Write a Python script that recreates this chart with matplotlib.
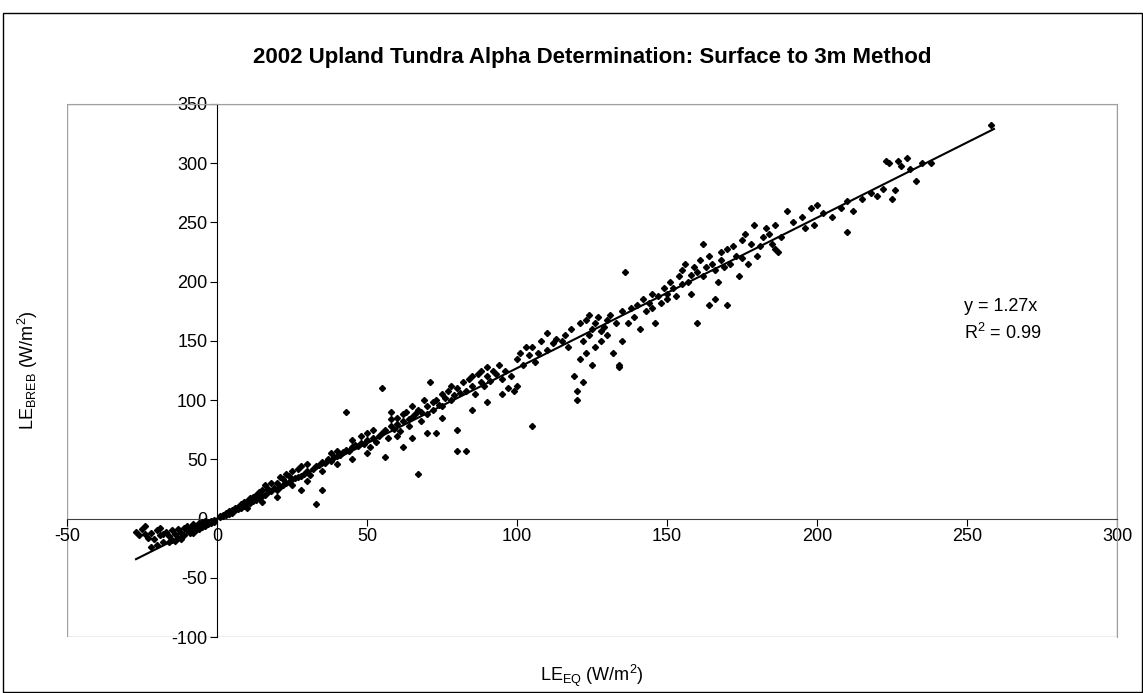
import matplotlib as mpl
import matplotlib.pyplot as plt
import numpy as np
from matplotlib.patches import Rectangle

mpl.rcParams['font.family'] = ['Liberation Sans', 'DejaVu Sans']
mpl.rcParams['mathtext.default'] = 'regular'
mpl.rcParams['axes.unicode_minus'] = False

# data (LE_EQ, LE_BREB in W/m2)
neg_x = [-27, -26, -25, -24, -23, -22, -21, -20, -19, -18, -18, -17, -16, -15, -15, -14, -13, -13,
         -12, -11, -11, -10, -10, -9, -9, -8, -8, -7, -7, -6, -6, -5, -5, -5, -4, -4, -4, -3, -3,
         -3, -2, -2, -2, -1, -1, -1, -6, -8, -12, -14, -16, -20, -22, -19, -24]
neg_y = [-11, -14, -9, -13, -16, -12, -17, -10, -14, -20, -13, -11, -15, -18, -10, -13, -9, -16,
         -12, -8, -14, -10, -6, -12, -8, -9, -5, -7, -10, -6, -4, -7, -5, -3, -5, -6, -2, -4, -3,
         -5, -2, -3, -4, -1, -2, -3, -9, -12, -17, -19, -20, -22, -24, -8, -6]

low_x = [1, 1, 2, 2, 3, 3, 4, 4, 5, 5, 6, 6, 7, 7, 8, 8, 9, 9, 10, 10, 11, 11, 12, 12, 13, 13,
         14, 14, 15, 15, 16, 16, 17, 17, 18, 18, 19, 20, 20, 21, 21, 22, 22, 23, 23, 24, 24, 25,
         25, 26, 27, 27, 28, 28, 29, 30, 30, 31, 32, 33, 33, 34, 35, 35, 36, 37, 38, 38, 39, 40,
         40, 41, 42, 43, 43, 44, 45, 45, 46, 47, 48, 48, 49, 50, 50, 20, 25, 30, 35, 28, 40, 45,
         50, 15, 10]
low_y = [1, 2, 2, 3, 3, 5, 4, 6, 5, 7, 7, 9, 8, 10, 9, 12, 11, 14, 12, 15, 13, 17, 15, 18, 16, 20,
         17, 22, 19, 24, 20, 28, 22, 25, 23, 30, 26, 24, 30, 27, 35, 28, 33, 30, 38, 31, 36, 33,
         40, 34, 35, 42, 36, 44, 38, 40, 46, 37, 42, 12, 44, 45, 48, 24, 47, 50, 49, 55, 52, 53,
         57, 54, 56, 90, 58, 57, 60, 66, 62, 61, 64, 70, 63, 66, 72, 18, 28, 32, 40, 24, 46, 50,
         55, 14, 9]

mid_x = [51, 52, 52, 53, 54, 55, 55, 56, 57, 58, 58, 59, 60, 60, 61, 62, 62, 63, 64, 64, 65, 65,
         66, 67, 67, 68, 68, 69, 70, 70, 71, 72, 72, 73, 73, 74, 75, 75, 76, 77, 78, 78, 79, 80,
         80, 81, 82, 83, 83, 84, 85, 85, 86, 87, 88, 88, 89, 90, 90, 91, 92, 93, 94, 95, 96, 97,
         98, 99, 100, 100, 80, 75, 70, 60, 65, 85, 90, 95, 62, 56, 58]
mid_y = [60, 68, 75, 65, 70, 72, 110, 75, 68, 78, 84, 76, 80, 85, 74, 82, 88, 90, 84, 78, 95, 86,
         88, 38, 92, 90, 82, 100, 95, 88, 115, 98, 92, 72, 100, 96, 105, 95, 102, 108, 100, 112,
         104, 57, 110, 106, 115, 57, 108, 118, 112, 120, 105, 122, 115, 125, 112, 120, 128, 116,
         125, 122, 130, 118, 125, 110, 120, 108, 135, 112, 75, 85, 72, 70, 68, 92, 98, 105, 60,
         52, 90]

high_x = [101, 102, 103, 104, 105, 105, 106, 107, 108, 110, 110, 112, 113, 115, 116, 117, 118,
          119, 120, 120, 121, 121, 122, 122, 123, 123, 124, 124, 125, 125, 126, 126, 127, 128,
          128, 129, 130, 130, 131, 132, 133, 134, 134, 135, 135, 136, 137, 138, 139, 140, 141,
          142, 143, 144, 145, 145, 146, 147, 148, 149, 150, 150]
high_y = [140, 130, 145, 138, 78, 145, 132, 140, 150, 157, 142, 148, 152, 150, 155, 145, 160,
          120, 100, 108, 165, 135, 115, 150, 168, 140, 172, 155, 160, 130, 165, 145, 170, 158,
          150, 162, 168, 155, 172, 140, 165, 130, 128, 175, 150, 208, 165, 178, 170, 180, 160,
          185, 175, 182, 190, 178, 165, 188, 182, 195, 185, 190]

top_x = [151, 152, 153, 154, 155, 155, 156, 157, 158, 158, 159, 160, 160, 161, 162, 162, 163,
         164, 164, 165, 166, 166, 167, 168, 168, 169, 170, 170, 171, 172, 173, 174, 175, 175,
         176, 177, 178, 179, 180, 181, 182, 183, 184, 185, 186, 186, 187, 188, 190, 192, 195,
         196, 198, 199, 200, 202, 205, 208, 210, 210, 212, 215, 218, 220, 222, 223, 224, 225,
         226, 227, 228, 230, 231, 233, 235, 238, 258]
top_y = [200, 195, 188, 205, 210, 198, 215, 200, 206, 190, 212, 165, 208, 218, 205, 232, 212,
         180, 222, 215, 185, 210, 200, 225, 218, 212, 180, 228, 215, 230, 222, 205, 235, 220,
         240, 215, 232, 248, 222, 230, 238, 245, 240, 232, 228, 248, 225, 238, 260, 250, 255,
         245, 262, 248, 265, 258, 255, 262, 242, 268, 260, 270, 275, 272, 278, 302, 300, 270,
         277, 302, 298, 304, 295, 285, 300, 300, 332]

le_eq = np.array(neg_x + low_x + mid_x + high_x + top_x, dtype=float)
le_breb = np.array(neg_y + low_y + mid_y + high_y + top_y, dtype=float)
slope = 1.27
fit_x = np.array([-27, 259])

fig = plt.figure(figsize=(11.43, 6.93), dpi=100)
ax = fig.add_axes([67 / 1143, 56 / 693, 1050 / 1143, 533 / 693])

ax.plot(fit_x, slope * fit_x, 'k-', lw=1.5, zorder=2)
ax.plot(le_eq, le_breb, 'kD', ms=3.1, zorder=3)

ax.set_xlim(-50, 300)
ax.set_ylim(-100, 350)
ax.set_xticks(np.arange(-50, 301, 50))
ax.set_yticks(np.arange(-100, 351, 50))

ax.spines['left'].set_position(('data', 0))
ax.spines['bottom'].set_position(('data', 0))
ax.spines['left'].set_color('black')
ax.spines['bottom'].set_color('#404040')
ax.spines['top'].set_color('#a0a0a0')
ax.spines['right'].set_color('#a0a0a0')
ax.add_patch(Rectangle((0, 0), 1, 1, transform=ax.transAxes, fill=False,
                       edgecolor='#a0a0a0', lw=1, zorder=0))
ax.tick_params(axis='both', direction='out', length=5, labelsize=13, color='black')
ax.tick_params(axis='x', pad=2)
ax.tick_params(axis='y', pad=2)

fig.text(28 / 1143, 1 - 370 / 693, 'LE$_{BREB}$ (W/m$^2$)', rotation=90,
         ha='center', va='center', fontsize=13)
fig.text(592 / 1143, 1 - 676 / 693, 'LE$_{EQ}$ (W/m$^2$)', ha='center', va='center', fontsize=13)
ax.text(249, 179, 'y = 1.27x', fontsize=13, va='center')
ax.text(249, 157, 'R$^2$ = 0.99', fontsize=13, va='center')

fig.text(592 / 1143, 1 - 58 / 693, '2002 Upland Tundra Alpha Determination: Surface to 3m Method',
         ha='center', va='center', fontsize=16, fontweight='bold')
fig.patches.append(Rectangle((3 / 1143, 1 / 693), 1139 / 1143, 679 / 693,
                             transform=fig.transFigure, fill=False, edgecolor='black', lw=1))

plt.savefig('out.png', dpi=100)
